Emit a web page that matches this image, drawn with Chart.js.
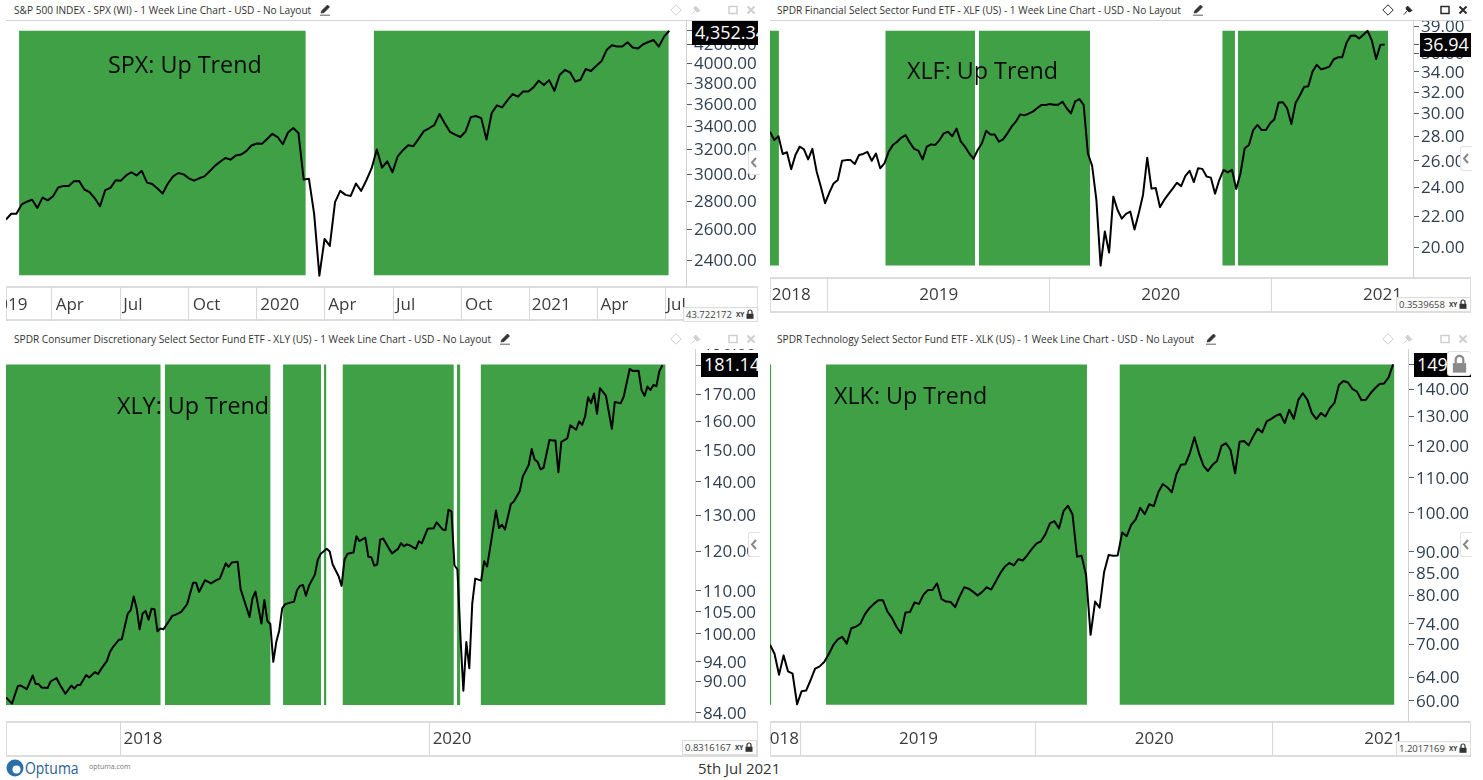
<!DOCTYPE html>
<html>
<head>
<meta charset="utf-8">
<title>Up Trend charts</title>
<script src="https://cdn.jsdelivr.net/npm/chart.js@4"></script>
<style>
  html, body { margin: 0; padding: 0; background: #fff; overflow: hidden; }
  body { width: 1483px; height: 780px; position: relative; font-family: "Open Sans", sans-serif; }
  canvas { position: absolute; z-index: 2; }
  .abs { position: absolute; white-space: nowrap; }
  .title { font-size: 10.15px; color: #333; line-height: 14px; z-index: 3; }
  .rule { height: 1px; background: #d4d4d4; z-index: 1; }
  .xbox { border: 1px solid #ddd; border-top-width: 2px; border-bottom-width: 2px; box-sizing: border-box; z-index: 1; }
  .note { font-size: 23.3px; line-height: 30px; color: #0c0c0c; z-index: 3; }
  .price { background: #000; color: #fff; font-size: 18px; line-height: 23px; overflow: hidden; z-index: 4; box-sizing: border-box; padding-left: 3px; }
  .scalebox { background: #fbfbfb; border: 1px solid #ddd; font-size: 9.5px; line-height: 13px; color: #444; z-index: 4; box-sizing: border-box; }
  .scalebox span { position: absolute; left: 2px; width: 47px; overflow: hidden; }
  .scalebox b { position: absolute; left: 52px; font-size: 6.5px; color: #333; }
  .handle { background: #fff; border: 1px solid #e2e2e2; border-right: none; border-radius: 3px 0 0 3px; box-sizing: border-box; z-index: 4; }
  svg { position: absolute; z-index: 5; }
</style>
</head>
<body>

<script>
// S&P 500
const spxValues = [
  2669, 2709, 2709, 2776, 2795, 2810, 2750, 2825, 2805, 2835,
  2900, 2912, 2912, 2948, 2950, 2885, 2865, 2820, 2762, 2880,
  2897, 2955, 2952, 2992, 3017, 2992, 3028, 2937, 2927, 2892,
  2855, 2930, 2985, 3011, 3000, 2970, 2952, 2970, 2985, 3025,
  3067, 3100, 3130, 3117, 3150, 3158, 3186, 3233, 3250, 3247,
  3289, 3333, 3305, 3244, 3344, 3383, 3339, 2960, 2967, 2709,
  2308, 2538, 2493, 2792, 2875, 2845, 2837, 2930, 2875, 2955,
  3047, 3200, 3053, 3103, 3017, 3144, 3194, 3236, 3228, 3289,
  3356, 3381, 3409, 3508, 3425, 3350, 3325, 3305, 3353, 3480,
  3490, 3471, 3283, 3517, 3588, 3569, 3634, 3694, 3669, 3719,
  3719, 3759, 3824, 3781, 3830, 3725, 3881, 3932, 3908, 3817,
  3834, 3942, 3922, 3973, 4021, 4140, 4193, 4178, 4178, 4224,
  4168, 4158, 4203, 4228, 4249, 4178, 4287, 4352.34
];
const spxWeeks = spxValues.map((v, i) => i);
const spxBands = [[2.5, 57.4], [70.4, 126.9]];
const spxTicks = [4352.34, 4200, 4000, 3800, 3600, 3400, 3200, 3000, 2800, 2600, 2400];
const spxDates = ["2019", "Apr", "Jul", "Oct", "2020", "Apr", "Jul", "Oct", "2021", "Apr", "Jul"];
const spxDateWeeks = [0.4, 12.2, 24.3, 38.4, 52.4, 64.4, 76.5, 90.5, 104.4, 116.5, 128.3];
const spxDividers = [8.8, 21.9, 35, 48, 61, 74.2, 87.2, 100.3, 113.3, 126.3];

// XLF
const xlfValues = [
  28.38, 27.68, 28.0, 26.54, 26.68, 25.34, 26.46, 27.13, 26.92, 26.11,
  26.95, 25.17, 24.03, 22.87, 23.61, 24.28, 24.53, 26.0, 26.05, 26.05,
  25.75, 26.46, 26.54, 26.7, 26.0, 26.57, 25.42, 25.8, 26.73, 27.27,
  27.54, 27.89, 28.09, 27.46, 26.95, 26.81, 26.11, 27.13, 27.32, 27.27,
  27.68, 28.24, 28.38, 28.0, 28.65, 27.57, 27.13, 26.59, 26.16, 26.86,
  27.41, 28.47, 28.15, 28.15, 27.54, 27.73, 28.24, 28.82, 29.26, 29.91,
  29.82, 29.97, 30.16, 30.47, 30.76, 30.76, 30.86, 30.79, 30.79, 31.08,
  30.47, 30.0, 31.11, 31.33, 30.79, 26.59, 25.6, 23.1, 18.94, 21.0,
  19.7, 23.33, 22.41, 21.83, 22.14, 22.3, 21.12, 22.18, 23.45, 26.24,
  23.9, 23.95, 22.6, 23.1, 23.5, 23.9, 24.33, 24.08, 24.84, 25.22,
  24.38, 25.42, 25.37, 24.79, 24.71, 23.54, 24.53, 25.29, 25.1, 25.29,
  23.88, 25.04, 27.0, 27.27, 28.53, 28.97, 28.53, 28.53, 29.12, 29.47,
  31.0, 31.03, 30.47, 29.06, 30.95, 31.67, 32.49, 32.56, 34.04, 34.74,
  34.28, 34.39, 34.56, 35.33, 35.54, 35.54, 37.1, 37.93, 37.97, 37.63,
  38.05, 38.5, 37.37, 35.36, 36.9, 36.94
];
const xlfWeeks = xlfValues.map((v, i) => i);
const xlfBands = [[0, 2.1], [27.2, 48.4], [49.3, 75.5], [106.7, 109.7], [110.4, 145.8]];
const xlfTicks = [39, 36.94, 36, 34, 32, 30, 28, 26, 24, 22, 20];
const xlfDates = ["2018", "2019", "2020", "2021"];
const xlfDateWeeks = [5, 39.8, 92.2, 144.5];
const xlfDividers = [13.5, 65.9, 118.4];

// XLY
const xlyWeeks = [
  0, 2, 4, 5, 7, 9, 10, 11, 12, 14, 15, 17, 18, 20, 22, 23, 24, 25, 27, 28,
  30, 31, 32, 34, 35, 36, 38, 39, 41, 42, 43, 44, 45, 46, 47, 48, 49, 50, 51, 52,
  53, 55, 56, 57, 59, 61, 63, 64, 65, 67, 69, 71, 72, 74, 75, 76, 78, 79, 82, 83,
  84, 86, 87, 88, 89, 90, 91, 92, 93, 94, 97, 98, 99, 100, 101, 102, 104, 105, 106, 108,
  109, 110, 112, 113, 114, 115, 117, 118, 119, 121, 122, 123, 124, 125, 126, 127, 129, 130, 132, 133,
  134, 135, 136, 138, 139, 140, 142, 144, 145, 147, 148, 149, 150, 151, 152, 153, 154, 155, 156, 157,
  158, 160, 161, 162, 163, 164, 165, 166, 167, 168, 169, 170, 171, 173, 174, 176, 177, 178, 179, 180,
  181, 183, 184, 185, 186, 187, 189, 190, 192, 193, 194, 195, 196, 197, 198, 199, 200, 202, 204, 205,
  207, 208, 210, 211, 213, 214, 215, 216, 217, 218, 219, 220, 221
];
const xlyValues = [
  86.9, 85.7, 89.1, 89.2, 88.5, 91.2, 89.5, 89.5, 88.8, 88.7, 90.0, 90.7, 89.5, 87.6, 89.2, 88.6, 89.3, 89.3, 91.3, 90.8,
  91.9, 91.5, 92.5, 94.2, 96.1, 97.1, 98.7, 98.8, 104.6, 105.4, 108.6, 105.8, 101, 104.6, 105.2, 103.2, 105.7, 105.6, 100.6, 101.2,
  101, 103, 104.1, 104.3, 105, 106.8, 112, 112, 109.7, 112.6, 111.8, 112.7, 113, 116.9, 116, 117.1, 117.3, 110.4, 103.8, 108.2,
  109.8, 102.3, 107.8, 102.9, 102.2, 94, 98.2, 100.7, 105.8, 106.8, 107.4, 110.2, 111.2, 111.4, 108.8, 111.2, 114, 117.9, 119.4, 120.7,
  120, 116.6, 113.6, 111.2, 117.9, 119.4, 119.7, 124.1, 122.8, 123.7, 118.6, 118.5, 116.3, 116.6, 123.2, 123.5, 120.7, 119.5, 120.7, 122.2,
  121.4, 121.9, 121.6, 120.7, 122.7, 122.2, 126.2, 126.3, 128, 126, 125.8, 131.6, 131.1, 116.4, 115.3, 99.6, 88.2, 98.2, 92.7, 107,
  113, 112.5, 117.4, 116.1, 120.9, 126, 131.4, 126.4, 127.3, 126, 129.6, 133.3, 134, 137.2, 141.6, 145.3, 150.5, 147.1, 146.3, 143.9,
  144.4, 153.6, 153.4, 153.4, 143, 152.9, 154.1, 158.6, 157.1, 160, 158.8, 161.8, 168.8, 166.6, 170.2, 162.7, 172.2, 169.4, 157.4, 167,
  166.6, 169, 179.7, 178.9, 179, 171.5, 169.3, 172.8, 171.5, 173.4, 173, 178.8, 181.14
];
const xlyBands = [[0, 52.1], [53.5, 89.1], [93.3, 106.1], [107, 107.9], [113.3, 150.8], [151.8, 153], [159.8, 222.1]];
const xlyTicks = [190, 181.14, 170, 160, 150, 140, 130, 120, 110, 105, 100, 94, 90, 84];
const xlyDates = ["2018", "2020"];
const xlyDateWeeks = [46.1, 150.2];
const xlyDividers = [38.6, 142.7];

// XLK
const xlkValues = [
  69.9, 68.2, 64.4, 67.9, 65.0, 64.6, 59.45, 61.6, 61.7, 63.5,
  65.5, 65.9, 66.7, 68.1, 69.8, 70.9, 71.4, 70.1, 73.1, 73.4,
  74, 75.9, 77.2, 78.1, 78.9, 78.9, 76.5, 75.2, 73.4, 72.1,
  76.3, 76.4, 78.4, 78.1, 80.1, 81.1, 81.1, 82.6, 79.1, 78.6,
  78.5, 77.4, 79.7, 81.7, 81.4, 80.7, 79.9, 80.7, 81.7, 81.2,
  83, 84.9, 86.4, 87.3, 86.7, 88.2, 87.9, 89.2, 90.7, 92,
  92.6, 94.4, 97.2, 97.8, 95.9, 100.5, 102, 99.6, 88.8, 89,
  84.5, 71.8, 78.6, 77.3, 85.2, 89.2, 89, 89.1, 94.8, 93.9,
  96.8, 98.3, 101.4, 99.7, 102.4, 101.9, 105.8, 108.2, 107.2, 105.8,
  111.1, 114, 114.2, 117.7, 122.9, 117.7, 113.7, 112.1, 114, 115.2,
  120, 120.9, 118.7, 111.4, 121.4, 121.6, 120.2, 123.1, 125.8, 124.5,
  128.3, 129.2, 130.2, 130.9, 127.7, 132.4, 129.2, 136, 138.5, 136.1,
  131.2, 129.1, 131.2, 130, 133, 134.9, 141.6, 143.2, 142.6, 140.1,
  139.1, 135.9, 136.1, 138.5, 140.4, 142, 142.2, 144.6, 149.8
];
const xlkWeeks = xlkValues.map((v, i) => i);
const xlkBands = [[0, 0.3], [12.4, 70.2], [77.4, 138.3]];
const xlkTicks = [149.8, 140, 130, 120, 110, 100, 90, 85, 80, 74, 70, 64, 60];
const xlkDates = ["2018", "2019", "2020", "2021"];
const xlkDateWeeks = [2.1, 32.9, 85.1, 135.9];
const xlkDividers = [6.7, 58.9, 111.4];

const GREEN = "#3fa046";

function addDiv(cls, left, top, width, height, text) {
  const d = document.createElement("div");
  d.className = "abs " + cls;
  d.style.left = left + "px";
  d.style.top = top + "px";
  if (width) d.style.width = width + "px";
  if (height) d.style.height = height + "px";
  if (text) d.textContent = text;
  document.body.appendChild(d);
  return d;
}

function addSvg(left, top, w, h, inner) {
  document.body.insertAdjacentHTML("beforeend",
    `<svg style="left:${left}px;top:${top}px" width="${w}" height="${h}" viewBox="0 0 ${w} ${h}">${inner}</svg>`);
}

function lockIcon(left, top, size, color) {
  addSvg(left, top, size, size,
    `<g transform="scale(${size / 10})"><path d="M3 5V3a2 2 0 0 1 4 0v2" fill="none" stroke="${color}" stroke-width="1.2"/><rect x="1.5" y="4.8" width="7" height="5" fill="${color}"/></g>`);
}

function windowIcons(xs, y, color) {
  addSvg(xs[0] - 6, y - 6, 12, 12, `<path d="M6 .8L11.2 6L6 11.2L.8 6Z" fill="none" stroke="${color}"/>`);
  addSvg(xs[1] - 6, y - 6, 12, 12, `<path d="M2 10.5L5 7M4 3.5l4.5 4.5M5.5 2l4.5 4.5L7 8 4 5Z" fill="${color}" stroke="${color}"/>`);
  addSvg(xs[2] - 5, y - 5, 10, 10, `<rect x="1" y="1.5" width="8" height="7" fill="none" stroke="${color}" stroke-width="1.5"/>`);
  addSvg(xs[3] - 5, y - 5, 10, 10, `<path d="M1.5 1.5l7 7M8.5 1.5l-7 7" stroke="${color}" stroke-width="2"/>`);
}

function pencilIcon(x, y) {
  addSvg(x - 6, y - 6, 12, 12, `<path d="M2 9L3 6.5L8.5 1L10.5 3L5 8.5ZM1 11.2H11" fill="#333" stroke="#333" stroke-width=".8"/>`);
}

// one panel: weeks + values + green bands on a log price axis
function makePanel(p) {
  const canvas = document.createElement("canvas");
  canvas.width = p.w;
  canvas.height = p.h;
  canvas.style.left = p.left + "px";
  canvas.style.top = p.top + "px";
  document.body.appendChild(canvas);

  const bandSets = p.bands.map(b => ({
    data: [{ x: b[0], y: p.bandTop }, { x: b[1], y: p.bandTop }],
    borderWidth: 0,
    pointRadius: 0,
    backgroundColor: GREEN,
    fill: { value: p.bandBottom },
    order: 2
  }));

  new Chart(canvas, {
    type: "line",
    data: {
      datasets: [{
        data: p.weeks.map((w, i) => ({ x: w, y: p.values[i] })),
        borderColor: "#000",
        borderWidth: 2,
        borderJoinStyle: "round",
        pointRadius: 0,
        tension: 0,
        fill: false,
        order: 1
      }].concat(bandSets)
    },
    options: {
      responsive: false,
      animation: false,
      events: [],
      layout: { padding: 0, autoPadding: false },
      plugins: { legend: { display: false }, tooltip: { enabled: false } },
      scales: {
        x: {
          type: "linear",
          min: 0,
          max: p.xMax,
          afterFit: s => {
            s.height = p.xAxisH;
            s.paddingLeft = 0;
            s.paddingRight = 0;
          },
          afterBuildTicks: s => {
            s.ticks = p.dateWeeks.concat(p.dividers).sort((a, b) => a - b).map(v => ({ value: v }));
          },
          border: { display: false },
          grid: {
            drawOnChartArea: false,
            tickLength: p.xAxisH,
            tickColor: c => (c.tick && c.tick.label === "" ? "#d8d8d8" : "rgba(0,0,0,0)")
          },
          ticks: {
            autoSkip: false,
            maxRotation: 0,
            minRotation: 0,
            padding: -p.xAxisH + 8,
            color: "#3c3c3c",
            font: { family: "Open Sans", size: 17 },
            callback: v => {
              const i = p.dateWeeks.indexOf(v);
              return i < 0 ? "" : p.dates[i];
            }
          }
        },
        y: {
          type: "logarithmic",
          position: "right",
          min: p.yMin,
          max: p.yMax,
          afterFit: s => {
            s.width = p.yAxisW;
            s.paddingTop = 0;
            s.paddingBottom = 0;
          },
          afterBuildTicks: s => { s.ticks = p.ticks.map(v => ({ value: v })); },
          border: { color: "#d0d0d0" },
          grid: { drawOnChartArea: false, tickLength: 6, tickColor: "#55606b" },
          ticks: {
            autoSkip: false,
            padding: 2,
            labelOffset: 1,
            color: "#2f3f4f",
            font: { family: "Open Sans", size: 17 },
            callback: v => v.toFixed(2)
          }
        }
      }
    }
  });
}

function makeChrome(c) {
  addDiv("title", c.titleX, c.titleY - 7, 0, 14, c.title);
  pencilIcon(c.pencilX, c.titleY);
  windowIcons(c.iconXs, c.titleY, c.iconColor);
  if (c.ruleY) addDiv("rule", c.boxX, c.ruleY, c.boxW, 1);
  addDiv("xbox", c.boxX, c.boxY, c.boxW, c.boxH);
  addDiv("note", c.noteX, c.noteY - 15, 0, 30, c.note);
  addDiv("price", c.priceX, c.priceY, c.priceW, 24, c.price);
  const sb = addDiv("scalebox", c.scaleX, c.scaleY, c.scaleW, 15);
  sb.innerHTML = `<span>${c.scale}</span><b>XY</b>`;
  lockIcon(c.scaleX + c.scaleW - 13, c.scaleY + 2, 10, "#333");
  addDiv("handle", c.handleX, c.handleY, 12, 25);
  addSvg(c.handleX + 2, c.handleY + 7, 8, 11, `<path d="M6 1L2 5.5L6 10" fill="none" stroke="#888" stroke-width="2"/>`);
}

makePanel({ left: 6, top: 21, w: 752, h: 300, xAxisH: 34, yAxisW: 72, xMax: 130.2,
  yMin: 2241, yMax: 4464, bandTop: 4353, bandBottom: 2310,
  weeks: spxWeeks, values: spxValues, bands: spxBands, ticks: spxTicks,
  dates: spxDates, dateWeeks: spxDateWeeks, dividers: spxDividers });

makePanel({ left: 770, top: 21, w: 701, h: 291, xAxisH: 35, yAxisW: 58, xMax: 151.7,
  yMin: 18.3, yMax: 39.66, bandTop: 38.5, bandBottom: 18.94,
  weeks: xlfWeeks, values: xlfValues, bands: xlfBands, ticks: xlfTicks,
  dates: xlfDates, dateWeeks: xlfDateWeeks, dividers: xlfDividers });

makePanel({ left: 6, top: 349, w: 752, h: 407, xAxisH: 35, yAxisW: 63, xMax: 232,
  yMin: 82.47, yMax: 187.8, bandTop: 181.5, bandBottom: 85.45,
  weeks: xlyWeeks, values: xlyValues, bands: xlyBands, ticks: xlyTicks,
  dates: xlyDates, dateWeeks: xlyDateWeeks, dividers: xlyDividers });

makePanel({ left: 770, top: 349, w: 701, h: 407, xAxisH: 35, yAxisW: 63, xMax: 141.3,
  yMin: 56.8, yMax: 156.2, bandTop: 149.8, bandBottom: 59.35,
  weeks: xlkWeeks, values: xlkValues, bands: xlkBands, ticks: xlkTicks,
  dates: xlkDates, dateWeeks: xlkDateWeeks, dividers: xlkDividers });

makeChrome({ title: "S&P 500 INDEX - SPX (WI) - 1 Week Line Chart - USD - No Layout",
  titleX: 14, titleY: 10, pencilX: 325, iconXs: [676, 696, 733, 751], iconColor: "#cfcfcf",
  ruleY: 20, boxX: 6, boxY: 286, boxW: 752, boxH: 35,
  note: "SPX: Up Trend", noteX: 108, noteY: 64,
  price: "4,352.34", priceX: 692, priceY: 21, priceW: 66,
  scale: "43.722172", scaleX: 683, scaleY: 307, scaleW: 75,
  handleX: 748, handleY: 150 });

makeChrome({ title: "SPDR Financial Select Sector Fund ETF - XLF (US) - 1 Week Line Chart - USD - No Layout",
  titleX: 777, titleY: 10, pencilX: 1198, iconXs: [1388, 1408, 1445, 1463], iconColor: "#2b2b2b",
  ruleY: 20, boxX: 770, boxY: 277, boxW: 701, boxH: 36,
  note: "XLF: Up Trend", noteX: 907, noteY: 70,
  price: "36.94", priceX: 1420, priceY: 33, priceW: 51,
  scale: "0.3539658", scaleX: 1396, scaleY: 297, scaleW: 75,
  handleX: 1460, handleY: 146 });

makeChrome({ title: "SPDR Consumer Discretionary Select Sector Fund ETF - XLY (US) - 1 Week Line Chart - USD - No Layout",
  titleX: 14, titleY: 339, pencilX: 505, iconXs: [676, 696, 733, 751], iconColor: "#cfcfcf",
  boxX: 6, boxY: 721, boxW: 752, boxH: 36,
  note: "XLY: Up Trend", noteX: 117, noteY: 405,
  price: "181.14", priceX: 701, priceY: 353, priceW: 57,
  scale: "0.8316167", scaleX: 682, scaleY: 740, scaleW: 75,
  handleX: 748, handleY: 532 });

makeChrome({ title: "SPDR Technology Select Sector Fund ETF - XLK (US) - 1 Week Line Chart - USD - No Layout",
  titleX: 777, titleY: 339, pencilX: 1211, iconXs: [1388, 1408, 1445, 1463], iconColor: "#cfcfcf",
  boxX: 770, boxY: 721, boxW: 701, boxH: 36,
  note: "XLK: Up Trend", noteX: 834, noteY: 395,
  price: "149.77", priceX: 1414, priceY: 353, priceW: 57,
  scale: "1.2017169", scaleX: 1396, scaleY: 741, scaleW: 75,
  handleX: 1460, handleY: 532 });

// padlock over the XLK price
addDiv("handle", 1447, 351, 24, 25).style.borderRadius = "3px";
lockIcon(1450, 354, 19, "#8a8a8a");

// footer
addSvg(6, 759, 18, 18, `<circle cx="9" cy="9" r="8.5" fill="#2a6fa8"/><circle cx="10.5" cy="10.5" r="4" fill="#fff"/>`);
const logo = addDiv("", 25, 757, 0, 22, "Optuma");
logo.style.cssText += "font-size:17px;line-height:22px;color:#2b5f8f;transform:scaleX(.82);transform-origin:left;";
const site = addDiv("", 89, 762, 0, 10, "optuma.com");
site.style.cssText += "font-size:7px;line-height:10px;color:#777;";
const day = addDiv("", 698, 758, 0, 20, "5th Jul 2021");
day.style.cssText += "font-size:15px;line-height:20px;color:#333;";
</script>
</body>
</html>
